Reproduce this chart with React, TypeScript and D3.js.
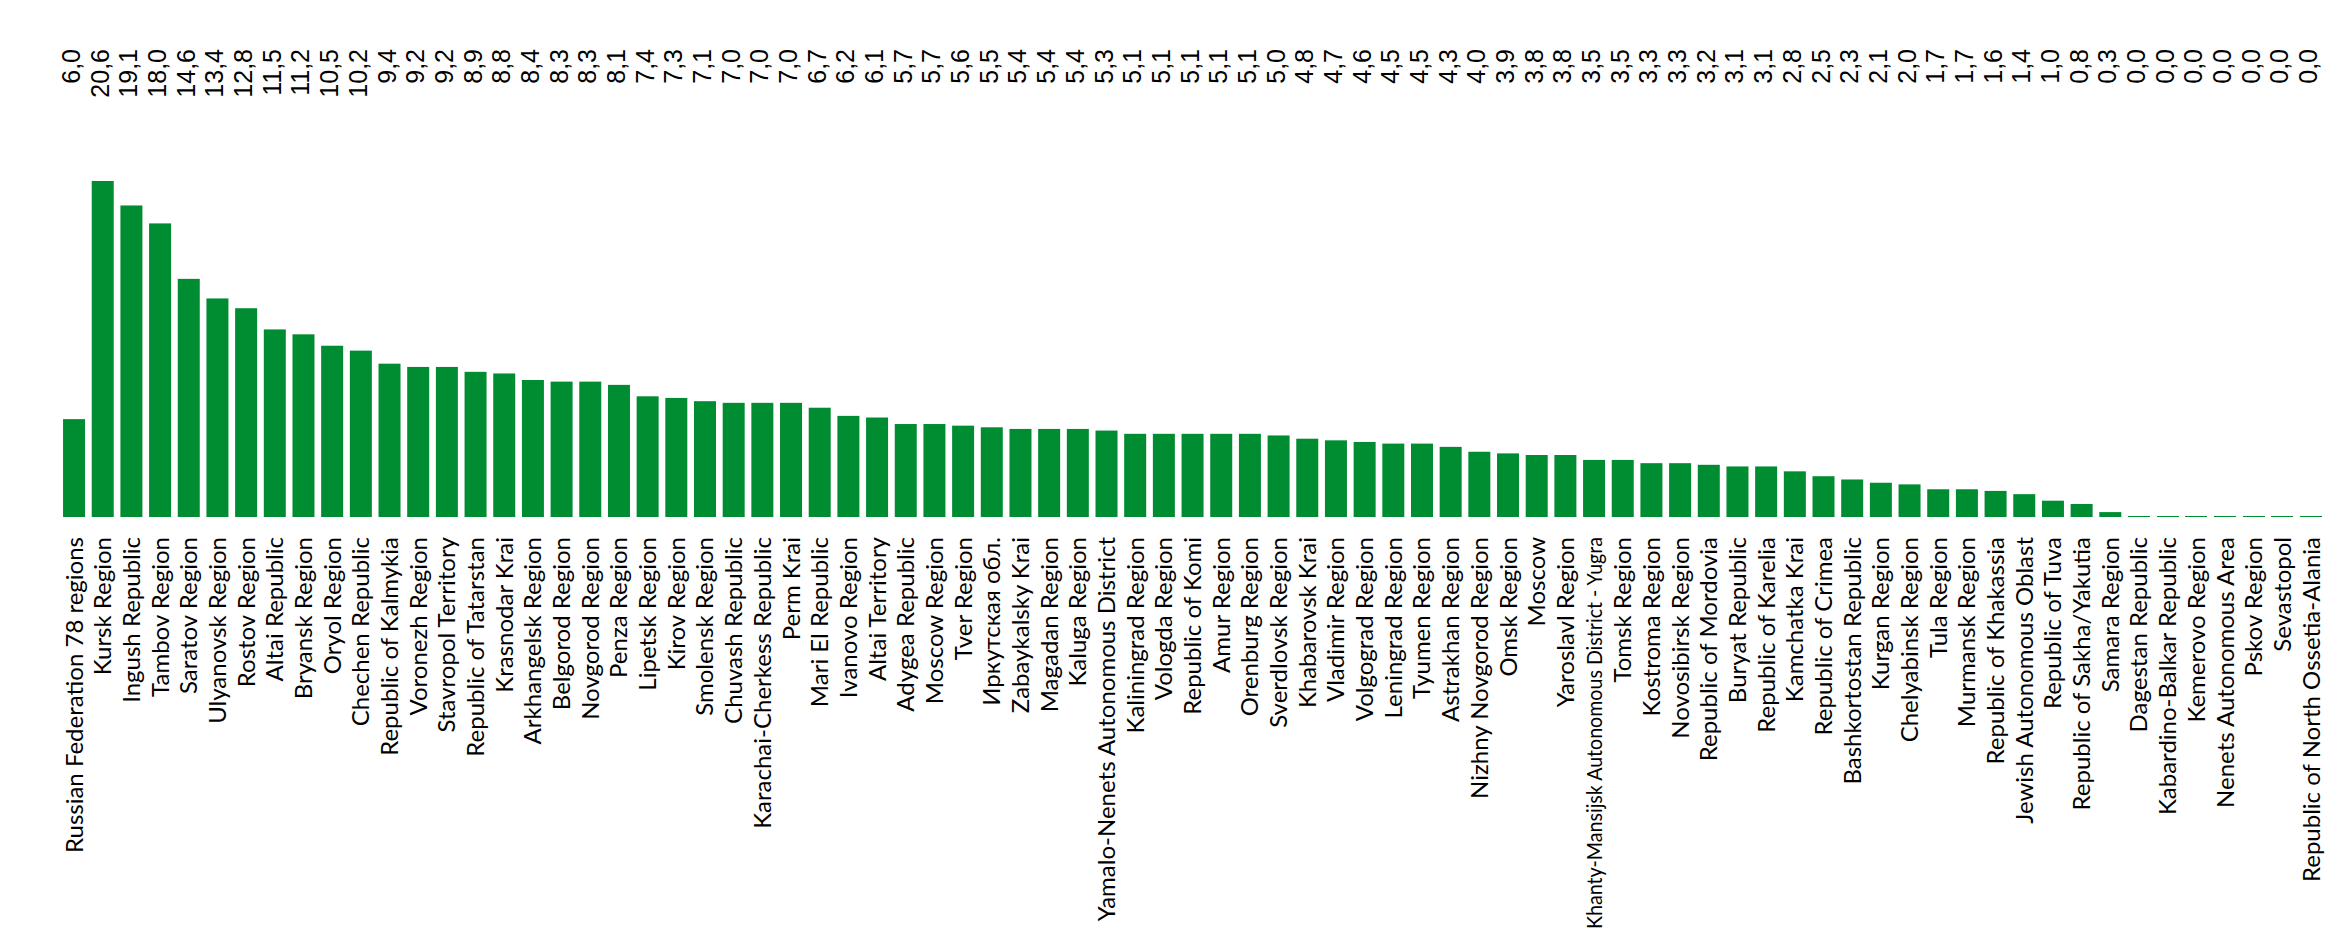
import * as d3 from 'd3'

const WIDTH = 2351
const HEIGHT = 941
const GREEN = '#008c30'

// region names, in the order of the chart
const regions = [
  'Russian Federation 78 regions',
  'Kursk Region',
  'Ingush Republic',
  'Tambov Region',
  'Saratov Region',
  'Ulyanovsk Region',
  'Rostov Region',
  'Altai Republic',
  'Bryansk Region',
  'Oryol Region',
  'Chechen Republic',
  'Republic of Kalmykia',
  'Voronezh Region',
  'Stavropol Territory',
  'Republic of Tatarstan',
  'Krasnodar Krai',
  'Arkhangelsk Region',
  'Belgorod Region',
  'Novgorod Region',
  'Penza Region',
  'Lipetsk Region',
  'Kirov Region',
  'Smolensk Region',
  'Chuvash Republic',
  'Karachai-Cherkess Republic',
  'Perm Krai',
  'Mari El Republic',
  'Ivanovo Region',
  'Altai Territory',
  'Adygea Republic',
  'Moscow Region',
  'Tver Region',
  'Иркутская обл.',
  'Zabaykalsky Krai',
  'Magadan Region',
  'Kaluga Region',
  'Yamalo-Nenets Autonomous District',
  'Kaliningrad Region',
  'Vologda Region',
  'Republic of Komi',
  'Amur Region',
  'Orenburg Region',
  'Sverdlovsk Region',
  'Khabarovsk Krai',
  'Vladimir Region',
  'Volgograd Region',
  'Leningrad Region',
  'Tyumen Region',
  'Astrakhan Region',
  'Nizhny Novgorod Region',
  'Omsk Region',
  'Moscow',
  'Yaroslavl Region',
  'Khanty-Mansijsk Autonomous District - Yugra',
  'Tomsk Region',
  'Kostroma Region',
  'Novosibirsk Region',
  'Republic of Mordovia',
  'Buryat Republic',
  'Republic of Karelia',
  'Kamchatka Krai',
  'Republic of Crimea',
  'Bashkortostan Republic',
  'Kurgan Region',
  'Chelyabinsk Region',
  'Tula Region',
  'Murmansk Region',
  'Republic of Khakassia',
  'Jewish Autonomous Oblast',
  'Republic of Tuva',
  'Republic of Sakha/Yakutia',
  'Samara Region',
  'Dagestan Republic',
  'Kabardino-Balkar Republic',
  'Kemerovo Region',
  'Nenets Autonomous Area',
  'Pskov Region',
  'Sevastopol',
  'Republic of North Ossetia-Alania',
]

const values = [
  6.0, 20.6, 19.1, 18.0, 14.6, 13.4, 12.8, 11.5, 11.2, 10.5, 10.2, 9.4, 9.2, 9.2, 8.9, 8.8, 8.4,
  8.3, 8.3, 8.1, 7.4, 7.3, 7.1, 7.0, 7.0, 7.0, 6.7, 6.2, 6.1, 5.7, 5.7, 5.6, 5.5, 5.4, 5.4, 5.4,
  5.3, 5.1, 5.1, 5.1, 5.1, 5.1, 5.0, 4.8, 4.7, 4.6, 4.5, 4.5, 4.3, 4.0, 3.9, 3.8, 3.8, 3.5, 3.5,
  3.3, 3.3, 3.2, 3.1, 3.1, 2.8, 2.5, 2.3, 2.1, 2.0, 1.7, 1.7, 1.6, 1.4, 1.0, 0.8, 0.3, 0.0, 0.0,
  0.0, 0.0, 0.0, 0.0, 0.0,
]

const fmt = (v: number) => d3.format('.1f')(v).replace('.', ',')

// labels longer than this get squeezed to fit above the bottom edge
const MAX_CHARS = 36
const SQUEEZED_LEN = 392

export default function App() {
  const xScale = d3
    .scaleBand<string>()
    .domain(regions)
    .range([59.7, 2325.4])
    .paddingInner(0.233)
    .paddingOuter(0.1165)

  const yScale = d3
    .scaleLinear()
    .domain([0, d3.max(values) ?? 0])
    .range([517, 181])

  const bw = xScale.bandwidth()

  return (
    <svg
      width={WIDTH}
      height={HEIGHT}
      style={{ position: 'absolute', left: 0, top: 0, background: 'white' }}
    >
      {/* bars */}
      {regions.map((r, i) => {
        const h = Math.max(yScale(0) - yScale(values[i]), 1)
        return (
          <rect
            key={r}
            x={xScale(r)}
            y={yScale(0) - h}
            width={bw}
            height={h}
            fill={GREEN}
            shapeRendering={values[i] === 0 ? 'crispEdges' : undefined}
          />
        )
      })}

      {/* values on top, rotated */}
      {regions.map((r, i) => {
        const cx = (xScale(r) ?? 0) + bw / 2 + 6
        return (
          <text
            key={'v' + r}
            transform={`translate(${cx},49) rotate(-90)`}
            textAnchor="end"
            fontFamily="'Liberation Sans', Arial, sans-serif"
            fontSize={25}
            fill="#000"
          >
            {fmt(values[i])}
          </text>
        )
      })}

      {/* region names under the bars */}
      {regions.map((r) => {
        const long = r.length > MAX_CHARS
        const cx = (xScale(r) ?? 0) + bw / 2 + (long ? 7.5 : 8.5)
        return (
          <text
            key={'c' + r}
            transform={`translate(${cx},537) rotate(-90)`}
            textAnchor="end"
            fontFamily="Lato, 'Open Sans', sans-serif"
            fontSize={long ? 21 : 24}
            textLength={long ? SQUEEZED_LEN : undefined}
            lengthAdjust={long ? 'spacingAndGlyphs' : undefined}
            fill="#000"
          >
            {r}
          </text>
        )
      })}
    </svg>
  )
}
